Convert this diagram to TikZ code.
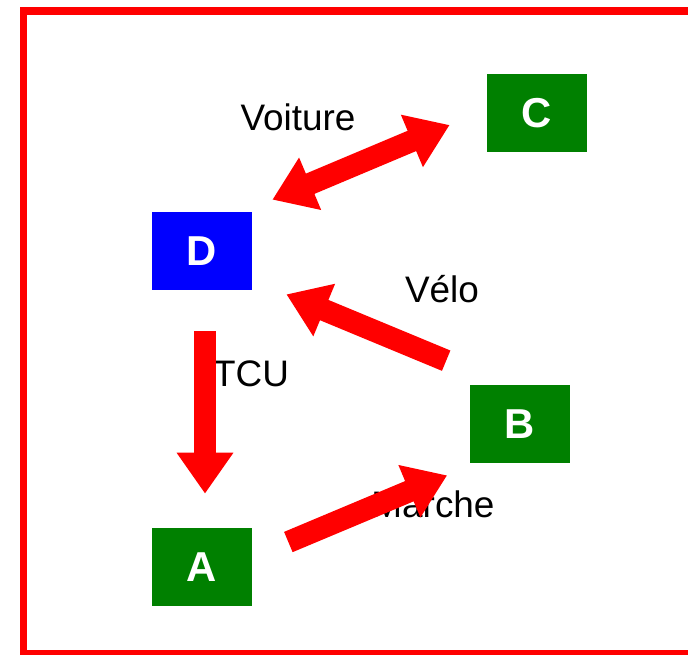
\documentclass[tikz,border=0pt]{standalone}
\usepackage{fontspec}
\setmainfont{Liberation Sans}
\usetikzlibrary{positioning,arrows.meta}

\begin{document}
\begin{tikzpicture}[x=0.02cm, y=-0.02cm,
    box/.style={minimum width=2cm, minimum height=1.56cm, inner sep=0pt,
      text=white, font=\fontsize{23.8}{26}\selectfont\bfseries},
    lab/.style={font=\fontsize{21}{24}\selectfont},
    bigarrow/.style={red, line width=0.44cm,
      -{Triangle[length=0.82cm, width=1.08cm]}},
    twoway/.style={red, line width=0.44cm,
      {Triangle[length=0.82cm, width=1.08cm]}-{Triangle[length=0.82cm, width=1.08cm]}}]
  \useasboundingbox (0,0) rectangle (688,654);
  % Frame
  \draw[red, line width=0.16cm] (700,11) -- (23.5,11) -- (23.5,654) -- (700,654);

  % Places
  \node (C) at (537,113) [box, fill={rgb,255:red,0;green,128;blue,0}] {C};
  \node (D) at (202,251) [box, fill=blue] {D};
  \node (B) at (519.5,424) [box, fill={rgb,255:red,0;green,128;blue,0}] {B};
  \node (A) at (202,567) [box, fill={rgb,255:red,0;green,128;blue,0}] {A};

  % Modes
  \node (voiture) at (298,117) [lab] {Voiture};
  \node (velo) at (442,289) [lab] {Vélo};
  \node (tcu) at (251,374) [lab] {TCU};
  \node (marche) at (433,504) [lab] {Marche};

  % Trips
  \draw[twoway] ([shift={(20,-12)}]D.north east) -- ([shift={(-37,12)}]C.west);
  \draw[bigarrow] ([shift={(-23,-24)}]B.north west) -- ([shift={(34,4)}]D.south east);
  \draw[bigarrow] ([shift={(3,41)}]D.south) -- ([shift={(3,-34)}]A.north);
  \draw[bigarrow] ([shift={(36,-25)}]A.east) -- ([shift={(-22,12)}]B.south west);

\end{tikzpicture}
\end{document}
